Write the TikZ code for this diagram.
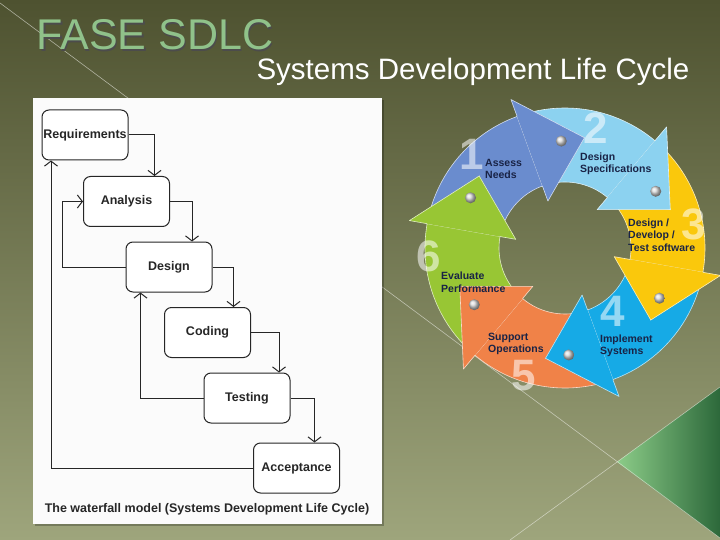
\documentclass[tikz,border=0pt]{standalone}
\usepackage{fontspec}
\setmainfont{Liberation Sans}
\usetikzlibrary{arrows.meta, positioning, calc}
\definecolor{bgtop}{RGB}{78, 82, 48}
\definecolor{bgbot}{RGB}{158, 165, 124}
\definecolor{titlegreen}{RGB}{144, 194, 138}
\definecolor{wedgelight}{RGB}{140, 204, 136}
\definecolor{wedgedark}{RGB}{44, 104, 58}
\definecolor{seg1}{RGB}{106, 140, 206}
\definecolor{seg2}{RGB}{140, 210, 240}
\definecolor{seg3}{RGB}{250, 200, 12}
\definecolor{seg4}{RGB}{22, 170, 230}
\definecolor{seg5}{RGB}{240, 130, 72}
\definecolor{seg6}{RGB}{152, 198, 52}
\definecolor{labelink}{RGB}{25, 35, 70}

\tikzset{
  wfbox/.style={draw=black!85, line width=1pt, rounded corners=7pt, fill=white,
    minimum width=86pt, minimum height=50pt, inner xsep=1pt,
    font=\bfseries\fontsize{12.5}{15}\selectfont, text=black!85},
  flow/.style={line width=1pt, black!85, -{Straight Barb[length=5pt, width=13pt]}},
  cyclabel/.style={anchor=west, align=left, inner sep=1pt, text=labelink,
    font=\bfseries\fontsize{10.5}{12.5}\selectfont},
  cycnum/.style={text=white, opacity=0.55, inner sep=0pt, text depth=0pt,
    font=\bfseries\fontsize{44}{44}\selectfont},
  knob/.style={circle, shading=ball, ball color=gray!30, minimum size=11pt, inner sep=0pt}
}

\begin{document}
\begin{tikzpicture}[x=1pt, y=-1pt]
    \useasboundingbox (0,0) rectangle (720,540);
    % slide background
    \shade[top color=bgtop, bottom color=bgbot] (0,0) rectangle (720,540);
    \shade[left color=wedgelight, right color=wedgedark] (617,462) -- (720,387) -- (720,538) -- cycle;
    \draw[white!80!bgbot, opacity=0.6, line width=0.6pt] (0,3) -- (720,538);
    \draw[white!80!bgbot, opacity=0.6, line width=0.6pt] (510,540) -- (720,387);

    % titles
    \node[anchor=base west, text=black!70, font=\fontsize{43}{50}\selectfont] at (34.5,51.5) {FASE SDLC};
    \node[anchor=base west, text=titlegreen, font=\fontsize{43}{50}\selectfont] (title) at (33,50) {FASE SDLC};
    \node[anchor=base west, text=white, font=\fontsize{29.5}{34}\selectfont] (subtitle) at (253,80) {Systems Development Life Cycle};

    % waterfall panel
    \fill[black, opacity=0.25] (35,100) rectangle (384,526);
    \fill[white!97!gray] (33,98) rectangle (382,524);
    \foreach \n/\t/\x/\y in {req/Requirements/85/135, ana/Analysis/126.5/201.5, des/Design/169/267,
                             cod/Coding/207.5/332.5, tst/Testing/247/398, acc/Acceptance/296.5/468}
        \node[wfbox] (\n) at (\x,\y) {\t};
    \foreach \a/\b/\d in {req/ana/26, ana/des/22, des/cod/21, cod/tst/28, tst/acc/24}
        \draw[flow] (\a.east) -- ++(\d,0) coordinate (turn) -- (turn |- \b.north);
    \draw[flow] (des.west) -- ++(-63,0) coordinate (back1) |- (ana.west);
    \draw[flow] (tst.west) -- ++(-63,0) coordinate (back2) -- (back2 |- des.south);
    \draw[flow] (acc.west) -- ++(-202,0) coordinate (back3) -- (back3 |- req.south);
    \node[font=\bfseries\fontsize{12.5}{14}\selectfont, text=black!85] (cap) at (207,509)
        {The waterfall model (Systems Development Life Cycle)};

    % life cycle wheel
    \begin{scope}[shift={(565,248)}]
        \foreach \k in {1,...,6} {
            \pgfmathsetmacro{\te}{110-60*(\k-1)}
            \pgfmathsetmacro{\ts}{\te+60}
            \pgfmathsetmacro{\tn}{\ts-30}
            \filldraw[fill=seg\k, draw=white!70!seg\k, line width=0.6pt]
                (\ts:140pt) arc[start angle=\ts, end angle=\te, radius=140pt]
                -- (\te:66pt) arc[start angle=\te, end angle=\ts, radius=66pt]
                -- (\tn:112pt) -- cycle;
        }
        \foreach \k in {1,...,6} {
            \pgfmathsetmacro{\te}{110-60*(\k-1)}
            \pgfmathsetmacro{\tp}{\te-30}
            \pgfmathsetmacro{\tb}{\te-18}
            \fill[seg\k] (\te:158pt) -- (\tp:112pt) -- (\te:50pt) -- cycle;
            \draw[white!70!seg\k, line width=0.6pt, line join=round]
                (\te:140pt) -- (\te:158pt) -- (\tp:112pt) -- (\te:50pt) -- (\te:66pt);
            \node[knob] (knob\k) at (\tb:107pt) {};
        }
    \end{scope}
    \foreach \k/\x/\y in {1/472/154, 2/596/128, 3/694/224, 4/613/311, 5/524/375, 6/429/256}
        \node[cycnum] (num\k) at (\x,\y) {\k};
    \node[cyclabel] (lbl1) at (484,169) {Assess\\Needs};
    \node[cyclabel] (lbl2) at (579,164) {Design\\Specifications};
    \node[cyclabel] (lbl3) at (627,235) {Design /\\Develop /\\Test software};
    \node[cyclabel] (lbl4) at (599,346) {Implement\\Systems};
    \node[cyclabel] (lbl5) at (487,344) {Support\\Operations};
    \node[cyclabel] (lbl6) at (440,282) {Evaluate\\Performance};
\end{tikzpicture}
\end{document}
